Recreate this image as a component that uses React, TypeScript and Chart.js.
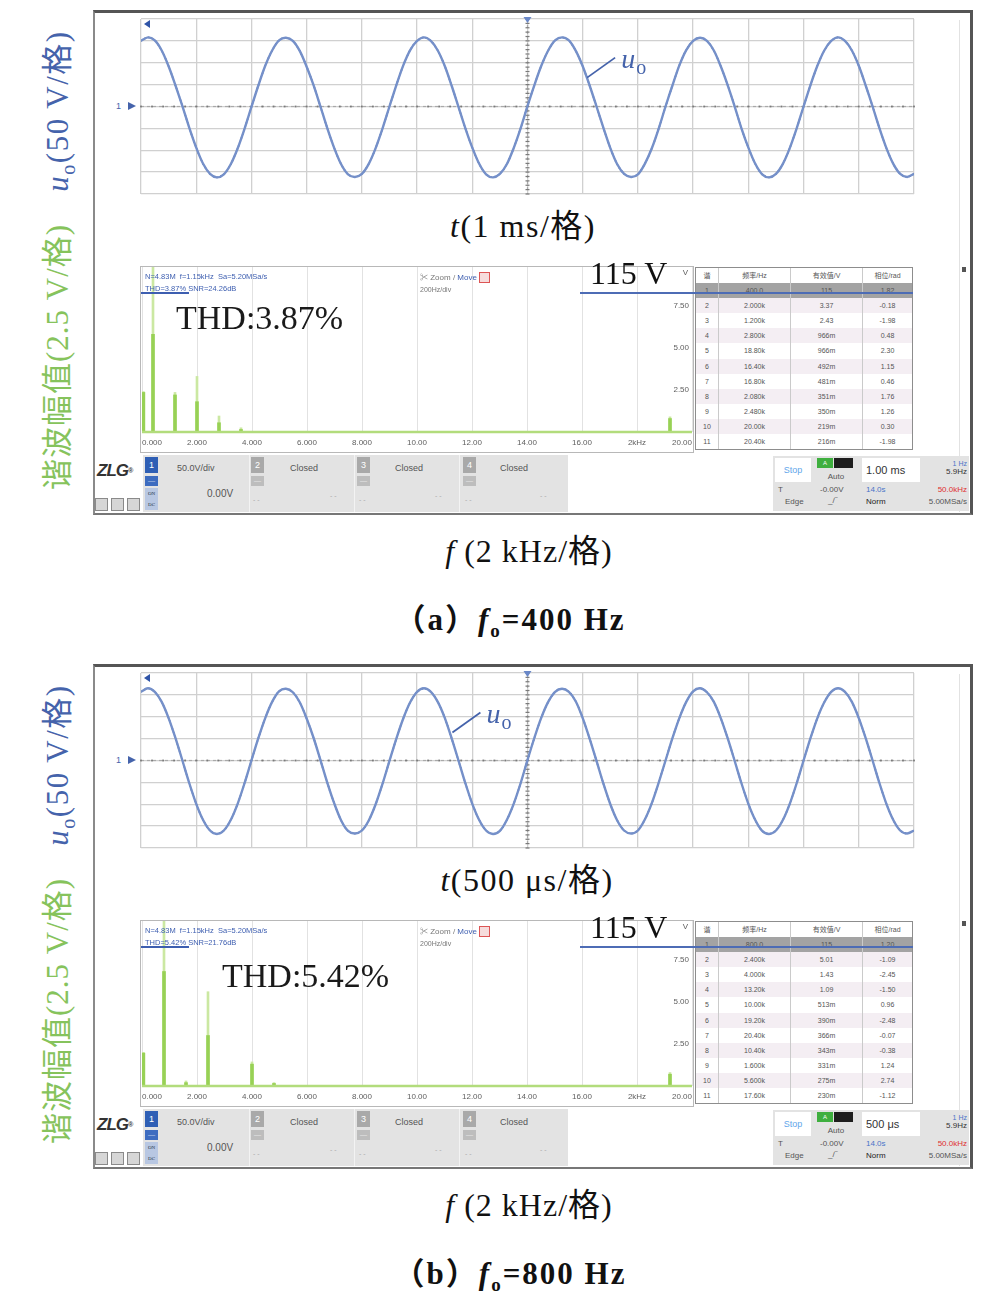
import React, { useEffect, useRef } from "react";
import { Chart, registerables } from "chart.js";

Chart.register(...registerables);

// ================= DATA =================
// Panel (a): fo = 400 Hz, 1 ms/div, samples every 0.125 ms from -7 ms
const waveStartA = -7;
const waveStepA = 0.125;
const waveA = [
  150, 158, 151, 128, 92, 48, 1, -49, -94, -131, -154, -162, -155, -132, -96, -51, -1, 48, 93, 128,
  151, 157, 150, 127, 91, 49, 0, -50, -95, -132, -155, -161, -154, -131, -95, -50, 0, 49, 94, 129,
  150, 158, 150, 128, 93, 48, -1, -50, -94, -131, -155, -162, -154, -132, -95, -50, 1, 49, 93, 128,
  151, 158, 151, 127, 92, 48, 0, -49, -95, -132, -154, -161, -155, -131, -96, -51, 0, 48, 94, 129,
  150, 157, 150, 128, 92, 49, 1, -50, -94, -131, -155, -162, -154, -131, -95, -50, 0, 49, 93, 128,
  150, 158, 150, 128, 93, 48, 0, -50, -95, -131, -154, -161, -154,
];
// Panel (b): fo = 800 Hz, 500 us/div, samples every 0.0625 ms from -3.5 ms
const waveStartB = -3.5;
const waveStepB = 0.0625;
const waveB = [
  157, 165, 157, 134, 97, 51, 0, -52, -99, -136, -160, -168, -160, -136, -99, -52, 0, 51, 97, 134,
  158, 164, 156, 133, 96, 52, 1, -51, -98, -137, -161, -167, -160, -137, -100, -53, -1, 50, 96, 133,
  157, 165, 157, 134, 98, 51, 0, -52, -99, -136, -160, -168, -161, -136, -99, -52, 1, 52, 98, 134,
  157, 164, 157, 135, 97, 50, -1, -53, -100, -137, -160, -167, -160, -135, -98, -51, 0, 51, 97, 134,
  158, 165, 156, 134, 97, 51, 0, -52, -99, -136, -161, -168, -160, -136, -99, -52, 0, 51, 97, 133,
  157, 165, 157, 134, 97, 51, 0, -52, -99, -136, -160, -167, -160,
];

// harmonic spectrum (kHz, V): peak-hold trace and current trace
const specFreqA = [0.05, 0.4, 1.2, 2.0, 2.8, 3.6, 19.2];
const specPeakA = [2.4, 115, 2.35, 3.3, 0.95, 0.25, 0.9];
const specNowA = [2.35, 5.8, 2.2, 1.8, 0.55, 0.15, 0.8];
const specFreqB = [0.05, 0.8, 1.6, 2.4, 4.0, 4.8, 19.2];
const specPeakB = [2.0, 115, 0.3, 5.6, 1.43, 0.2, 0.8];
const specNowB = [1.95, 6.8, 0.2, 3.0, 1.3, 0.15, 0.7];

const specXTicks = [0, 2, 4, 6, 8, 10, 12, 14, 16, 18, 20];
const specXLabels = ["0.000", "2.000", "4.000", "6.000", "8.000", "10.00", "12.00", "14.00", "16.00", "2kHz", "20.00"];
const specYTicks = [7.5, 5.0, 2.5];

// harmonic tables
const tblHeader = ["谐", "频率/Hz", "有效值/V", "相位/rad"];
const harmNo = ["1", "2", "3", "4", "5", "6", "7", "8", "9", "10", "11"];
const tblFreqA = ["400.0", "2.000k", "1.200k", "2.800k", "18.80k", "16.40k", "16.80k", "2.080k", "2.480k", "20.00k", "20.40k"];
const tblRmsA = ["115", "3.37", "2.43", "966m", "966m", "492m", "481m", "351m", "350m", "219m", "216m"];
const tblPhaseA = ["1.82", "-0.18", "-1.98", "0.48", "2.30", "1.15", "0.46", "1.76", "1.26", "0.30", "-1.98"];
const tblFreqB = ["800.0", "2.400k", "4.000k", "13.20k", "10.00k", "19.20k", "20.40k", "10.40k", "1.600k", "5.600k", "17.60k"];
const tblRmsB = ["115", "5.01", "1.43", "1.09", "513m", "390m", "366m", "343m", "331m", "275m", "230m"];
const tblPhaseB = ["1.20", "-1.09", "-2.45", "-1.50", "0.96", "-2.48", "-0.07", "-0.38", "1.24", "2.74", "-1.12"];

// ================= STYLE =================
const SERIF = '"Liberation Serif", "Times New Roman", "Noto Sans CJK SC", serif';
const SANS = '"Liberation Sans", Arial, "Noto Sans CJK SC", sans-serif';
const BLUE = "#4563ab";
const GREEN = "#86c35c";

const waveDecor = {
  id: "waveDecor",
  beforeDatasetsDraw(chart: any) {
    const { ctx, chartArea: a, scales } = chart;
    const x = scales.x, y = scales.y;
    const cx = x.getPixelForValue(0), cy = y.getPixelForValue(0);
    ctx.save();
    ctx.strokeStyle = "#a9a9a9";
    ctx.lineWidth = 1.2;
    ctx.setLineDash([3, 3]);
    ctx.beginPath(); ctx.moveTo(a.left, cy); ctx.lineTo(a.right, cy); ctx.stroke();
    ctx.beginPath(); ctx.moveTo(cx, a.top); ctx.lineTo(cx, a.bottom); ctx.stroke();
    ctx.setLineDash([]);
    ctx.fillStyle = "#7a7a7a";
    const nx = 70, ny = 40;
    for (let i = 0; i <= nx; i++) {
      const px = x.getPixelForValue(x.min + ((x.max - x.min) * i) / nx);
      ctx.fillRect(px - 0.9, cy - 0.9, 1.8, 1.8);
    }
    for (let j = 0; j <= ny; j++) {
      const py = y.getPixelForValue(y.min + ((y.max - y.min) * j) / ny);
      ctx.fillRect(cx - 2, py - 0.6, 4, 1.2);
    }
    ctx.restore();
  },
  afterDatasetsDraw(chart: any, _args: any, opts: any) {
    const { ctx, chartArea: a, scales } = chart;
    const x = scales.x, y = scales.y;
    const cx = x.getPixelForValue(0);
    ctx.save();
    ctx.fillStyle = "#6a88c8";
    ctx.beginPath(); ctx.moveTo(cx - 4, a.top - 2); ctx.lineTo(cx + 4, a.top - 2); ctx.lineTo(cx, a.top + 4); ctx.closePath(); ctx.fill();
    ctx.fillStyle = "#2f54a8";
    ctx.beginPath(); ctx.moveTo(a.left + 3, a.top + 5); ctx.lineTo(a.left + 9, a.top + 1); ctx.lineTo(a.left + 9, a.top + 9); ctx.closePath(); ctx.fill();
    const an = opts.anchor;
    const px = x.getPixelForValue(an.x), py = y.getPixelForValue(an.y);
    ctx.strokeStyle = BLUE; ctx.lineWidth = 1.8;
    ctx.beginPath(); ctx.moveTo(px, py); ctx.lineTo(px + 28, py - 20); ctx.stroke();
    ctx.fillStyle = BLUE;
    ctx.textAlign = "left"; ctx.textBaseline = "alphabetic";
    ctx.font = `italic 28px ${SERIF}`;
    ctx.fillText("u", px + 34, py - 10);
    const w = ctx.measureText("u").width;
    ctx.font = `20px ${SERIF}`;
    ctx.fillText("o", px + 34 + w + 1, py - 4);
    ctx.restore();
  },
};

const specDecor = {
  id: "specDecor",
  afterDatasetsDraw(chart: any) {
    const { ctx, chartArea: a, scales } = chart;
    const x = scales.x, y = scales.y;
    const by = y.getPixelForValue(0);
    ctx.save();
    ctx.strokeStyle = "#b2dc7c"; ctx.lineWidth = 2.5;
    ctx.beginPath(); ctx.moveTo(a.left, by); ctx.lineTo(a.right, by); ctx.stroke();
    ctx.fillStyle = "#5e5e5e";
    ctx.font = `8px ${SANS}`;
    ctx.textAlign = "right"; ctx.textBaseline = "middle";
    specYTicks.forEach((v) => ctx.fillText(v.toFixed(2), a.right - 3, y.getPixelForValue(v)));
    ctx.fillText("V", a.right - 4, a.top + 6);
    specXLabels.forEach((lab, i) => {
      const px = x.getPixelForValue(specXTicks[i]);
      ctx.textAlign = i === 0 ? "left" : i === specXLabels.length - 1 ? "right" : "center";
      ctx.fillText(lab, px, by + 11);
    });
    ctx.restore();
  },
};

function WaveChart({ oy, start, step, values, span, anchor }: any) {
  const ref = useRef<HTMLCanvasElement>(null);
  useEffect(() => {
    const pts = values.map((v: number, i: number) => ({ x: start + i * step, y: v }));
    const chart = new Chart(ref.current as HTMLCanvasElement, {
      type: "line",
      data: {
        datasets: [
          { data: pts, borderColor: "#7590c9", borderWidth: 2.4, pointRadius: 0, tension: 0.3, fill: false },
          { data: pts, borderColor: "#2f4d97", borderWidth: 1.6, borderDash: [1.5, 2.5], pointRadius: 0, tension: 0.3, fill: false },
        ],
      },
      options: {
        responsive: false,
        animation: false,
        events: [],
        layout: { padding: 2 },
        plugins: { legend: { display: false }, tooltip: { enabled: false }, waveDecor: { anchor } } as any,
        scales: {
          x: {
            type: "linear", min: -span, max: span,
            ticks: { display: false, stepSize: span / 7 },
            grid: { color: "#d0d0d0", lineWidth: 1.3, drawTicks: false },
            border: { display: false },
            afterFit: (s: any) => { s.height = 0; },
          },
          y: {
            type: "linear", min: -200, max: 200,
            ticks: { display: false, stepSize: 50 },
            grid: { color: "#d0d0d0", lineWidth: 1.3, drawTicks: false },
            border: { display: false },
            afterFit: (s: any) => { s.width = 0; },
          },
        },
      } as any,
      plugins: [waveDecor as any],
    });
    return () => chart.destroy();
  }, []);
  return <canvas ref={ref} width={777} height={179} style={{ position: "absolute", left: 139, top: 17 + oy }} />;
}

function SpecChart({ oy, freq, peak, now }: any) {
  const ref = useRef<HTMLCanvasElement>(null);
  useEffect(() => {
    const chart = new Chart(ref.current as HTMLCanvasElement, {
      type: "bar",
      data: {
        datasets: [
          { data: freq.map((f: number, i: number) => ({ x: f, y: peak[i] })), backgroundColor: "#cbe8a2", barThickness: 2, grouped: false, order: 2 },
          { data: freq.map((f: number, i: number) => ({ x: f, y: now[i] })), backgroundColor: "#98d155", barThickness: 3, grouped: false, order: 1 },
        ],
      } as any,
      options: {
        responsive: false,
        animation: false,
        events: [],
        layout: { padding: { left: 2, right: 3, top: 2, bottom: 0 } },
        plugins: { legend: { display: false }, tooltip: { enabled: false } },
        scales: {
          x: {
            type: "linear", min: 0, max: 20, offset: false,
            ticks: { display: false, stepSize: 2 },
            grid: { color: "#e2e2e2", lineWidth: 1, drawTicks: false, offset: false },
            border: { display: false },
            afterFit: (s: any) => { s.height = 18; },
          },
          y: {
            type: "linear", min: 0, max: 9.8,
            ticks: { display: false },
            grid: { display: false },
            border: { display: false },
            afterFit: (s: any) => { s.width = 0; },
          },
        },
      } as any,
      plugins: [specDecor as any],
    });
    return () => chart.destroy();
  }, []);
  return <canvas ref={ref} width={555} height={185} style={{ position: "absolute", left: 140, top: 265 + oy }} />;
}

function HarmTable({ oy, freq, rms, phase }: any) {
  const cols = [23, 72, 72, 49];
  const rowH = 15.1;
  const rows = [tblHeader, ...freq.map((f: string, i: number) => [harmNo[i], f, rms[i], phase[i]])];
  return (
    <div style={{ position: "absolute", left: 695, top: 267 + oy, width: 218, height: 183, border: "1px solid #8d8d8d", boxSizing: "border-box", background: "#fff", fontFamily: SANS, fontSize: 7, color: "#555", overflow: "hidden" }}>
      {rows.map((r: string[], ri: number) => (
        <div key={ri} style={{ display: "flex", height: rowH, lineHeight: rowH + "px", boxSizing: "border-box", background: ri === 1 ? "#a3a3a3" : ri > 1 && ri % 2 === 0 ? "#f4eef3" : "#fff" }}>
          {r.map((c: string, ci: number) => (
            <div key={ci} style={{ width: cols[ci], textAlign: "center", borderRight: ci < 3 ? "1px solid #cacaca" : "none", boxSizing: "border-box", whiteSpace: "nowrap" }}>{c}</div>
          ))}
        </div>
      ))}
    </div>
  );
}

function Abs({ l, t, w, h, bg, style, children }: any) {
  return <div style={{ position: "absolute", left: l, top: t, width: w, height: h, background: bg, ...style }}>{children}</div>;
}

function Txt({ x, y, size, color = "#111", family = SERIF, weight = 400, align = "center", children, style }: any) {
  const tx = align === "center" ? "translateX(-50%)" : align === "right" ? "translateX(-100%)" : "none";
  return (
    <div style={{ position: "absolute", left: x, top: y - size / 2, fontSize: size, lineHeight: size + "px", color, fontFamily: family, fontWeight: weight, whiteSpace: "nowrap", transform: tx, ...style }}>{children}</div>
  );
}

function ChBox({ l, t, n, active }: any) {
  const c = active ? "#2f5fb5" : "#a9a9a9";
  return (
    <>
      <Abs l={l} t={t} w={13} h={16} bg={c} style={{ color: "#fff", fontSize: 9, fontFamily: SANS, textAlign: "center", lineHeight: "16px" }}>{n}</Abs>
      <Abs l={l} t={t + 19} w={13} h={10} bg={active ? "#3d6cc0" : "#bdbdbd"} style={{ color: "#fff", fontSize: 7, textAlign: "center", lineHeight: "10px" }}>—</Abs>
    </>
  );
}

function Toolbar({ oy, timebase }: any) {
  const t = 455 + oy;
  const sm = { fontFamily: SANS, color: "#555" };
  return (
    <>
      <Txt x={97} y={t + 15} size={17} family={SANS} weight={700} align="left" color="#333" style={{ fontStyle: "italic", letterSpacing: -1 }}>ZLG<span style={{ fontSize: 7, verticalAlign: "top" }}>®</span></Txt>
      {[95, 111, 127].map((l) => (
        <Abs key={l} l={l} t={t + 43} w={13} h={13} bg="#d6d6d6" style={{ border: "1px solid #8a8a8a", boxSizing: "border-box" }} />
      ))}
      <Abs l={143} t={t} w={425} h={57} bg="#e3e3e3" />
      {[249, 354, 459].map((l) => <Abs key={l} l={l} t={t} w={1} h={57} bg="#f3f3f3" />)}
      <ChBox l={145} t={t + 2} n="1" active />
      <Abs l={145} t={t + 33} w={13} h={22} bg="#b8c7e2" style={{ fontSize: 5, color: "#234", textAlign: "center", lineHeight: "11px" }}>ON<br />DC</Abs>
      <Txt x={177} y={t + 13} size={9} align="left" style={sm}>50.0V/div</Txt>
      <Txt x={207} y={t + 39} size={10} align="left" style={sm}>0.00V</Txt>
      {[[251, "2", 290], [357, "3", 395], [463, "4", 500]].map(([l, n, tx]: any) => (
        <React.Fragment key={n}>
          <ChBox l={l} t={t + 2} n={n} />
          <Txt x={tx} y={t + 13} size={9} align="left" style={sm}>Closed</Txt>
          <Txt x={l + 2} y={t + 44} size={7} align="left" style={{ ...sm, color: "#aaa" }}>- -</Txt>
          <Txt x={tx + 40} y={t + 40} size={7} align="left" style={{ ...sm, color: "#aaa" }}>- -</Txt>
        </React.Fragment>
      ))}
      {/* right cluster */}
      <Abs l={773} t={t + 1} w={196} h={55} bg="#e3e3e3" />
      <Abs l={775} t={t + 3} w={36} h={24} bg="#fff" style={{ color: "#62a6ea", fontSize: 9, fontFamily: SANS, textAlign: "center", lineHeight: "24px" }}>Stop</Abs>
      <Abs l={817} t={t + 3} w={16} h={10} bg="#3faf3f" style={{ color: "#fff", fontSize: 6, textAlign: "center", lineHeight: "10px", fontFamily: SANS }}>A</Abs>
      <Abs l={834} t={t + 3} w={19} h={10} bg="#1e1e1e" />
      <Txt x={836} y={t + 22} size={8} style={sm}>Auto</Txt>
      <Abs l={862} t={t + 3} w={58} h={24} bg="#fff" style={{ fontSize: 11, fontFamily: SANS, color: "#333", lineHeight: "24px", paddingLeft: 4, boxSizing: "border-box", whiteSpace: "nowrap" }}>{timebase}</Abs>
      <Txt x={967} y={t + 8} size={7} align="right" style={{ fontFamily: SANS, color: "#4a73c8" }}>1 Hz</Txt>
      <Txt x={967} y={t + 17} size={8} align="right" style={{ fontFamily: SANS, color: "#333" }}>5.9Hz</Txt>
      <Txt x={778} y={t + 35} size={8} align="left" style={sm}>T</Txt>
      <Txt x={820} y={t + 35} size={8} align="left" style={sm}>-0.00V</Txt>
      <Txt x={866} y={t + 35} size={8} align="left" style={{ fontFamily: SANS, color: "#4a73c8" }}>14.0s</Txt>
      <Txt x={967} y={t + 35} size={8} align="right" style={{ fontFamily: SANS, color: "#e03030" }}>50.0kHz</Txt>
      <Txt x={785} y={t + 47} size={8} align="left" style={sm}>Edge</Txt>
      <Txt x={828} y={t + 46} size={8} align="left" style={sm}>_/‾</Txt>
      <Txt x={866} y={t + 47} size={8} align="left" style={{ fontFamily: SANS, color: "#222" }}>Norm</Txt>
      <Txt x={967} y={t + 47} size={8} align="right" style={sm}>5.00MSa/s</Txt>
    </>
  );
}

function Panel(p: any) {
  const oy = p.oy;
  return (
    <>
      {/* left rotated axis titles */}
      <div style={{ position: "absolute", left: 56, top: 111 + oy, transform: "translate(-50%,-50%) rotate(-90deg)", whiteSpace: "nowrap", fontFamily: SERIF, fontSize: 31, color: BLUE, letterSpacing: 1.5 }}>
        <i>u</i><sub style={{ fontSize: 20 }}>o</sub>(50 V/格)
      </div>
      <div style={{ position: "absolute", left: 54, top: 357 + oy, transform: "translate(-50%,-50%) rotate(-90deg)", whiteSpace: "nowrap", fontFamily: SERIF, fontSize: 31, color: GREEN, letterSpacing: 1 }}>
        谐波幅值(2.5 V/格)
      </div>
      {/* screenshot frame */}
      <Abs l={93} t={10 + oy} w={880} h={505} style={{ boxSizing: "border-box", borderTop: "3px solid #555", borderLeft: "2px solid #8a8a8a", borderRight: "3px solid #555", borderBottom: "2px solid #777" }} />
      <Abs l={959} t={20 + oy} w={1} h={492} bg="#e2e2e2" />
      <Abs l={962} t={267 + oy} w={4} h={5} bg="#555" />
      {/* channel marker */}
      <Txt x={116} y={106 + oy} size={9} family={SANS} color={BLUE} align="left">1</Txt>
      <div style={{ position: "absolute", left: 128, top: 102 + oy, width: 0, height: 0, borderTop: "4px solid transparent", borderBottom: "4px solid transparent", borderLeft: `8px solid ${BLUE}` }} />
      <WaveChart oy={oy} start={p.waveStart} step={p.waveStep} values={p.wave} span={p.span} anchor={p.anchor} />
      {/* time axis title */}
      <Txt x={p.tX} y={226 + oy} size={32} style={{ letterSpacing: 1.5 }}><i>t</i>{p.tUnit}</Txt>
      {/* spectrum */}
      <Abs l={140} t={266 + oy} w={554} h={187} style={{ border: "1px solid #b8b8b8", boxSizing: "border-box" }} />
      <SpecChart oy={oy} freq={p.specFreq} peak={p.specPeak} now={p.specNow} />
      <Txt x={145} y={277 + oy} size={7.5} family={SANS} color="#3d5eb0" align="left">N=4.83M&nbsp;&nbsp;f=1.15kHz&nbsp;&nbsp;Sa=5.20MSa/s</Txt>
      <Txt x={145} y={289 + oy} size={7.5} family={SANS} color="#3d5eb0" align="left">{p.info2}</Txt>
      <Abs l={141} t={292 + oy} w={48} h={1.5} bg="#3d5eb0" />
      <Txt x={420} y={276 + oy} size={8} family={SANS} color="#777" align="left">✂ Zoom / <span style={{ color: "#3d5eb0" }}>Move</span> <span style={{ display: "inline-block", width: 9, height: 9, border: "1px solid #d55", verticalAlign: "middle", background: "#f6dcdc" }} /></Txt>
      <Txt x={420} y={289 + oy} size={7} family={SANS} color="#777" align="left">200Hz/div</Txt>
      <Txt x={p.thdX} y={318 + oy + p.thdDy} size={34} align="left" color="#1a1a1a">{p.thd}</Txt>
      <HarmTable oy={oy} freq={p.tblFreq} rms={p.tblRms} phase={p.tblPhase} />
      <Txt x={590} y={273 + oy} size={32} align="left" color="#111">115 V</Txt>
      <Abs l={580} t={292 + oy} w={333} h={2} bg="#4d6cb5" />
      <Toolbar oy={oy} timebase={p.timebase} />
      {/* frequency axis title */}
      <Txt x={529} y={551 + oy} size={32} style={{ letterSpacing: 1 }}><i>f</i> (2 kHz/格)</Txt>
      {/* caption */}
      <Txt x={510} y={619 + oy} size={31} weight={700} style={{ letterSpacing: 2 }}>
        （{p.letter}）<i>f</i><sub style={{ fontSize: 19 }}>o</sub>={p.fo} Hz
      </Txt>
    </>
  );
}

export default function App() {
  return (
    <div style={{ position: "absolute", left: 0, top: 0, width: 998, height: 1305, background: "#fff", overflow: "hidden" }}>
      <Panel
        oy={0} letter="a" fo="400" tX={523} tUnit="(1 ms/格)" timebase="1.00 ms"
        waveStart={waveStartA} waveStep={waveStepA} wave={waveA} span={7} anchor={{ x: 1.08, y: 66 }}
        specFreq={specFreqA} specPeak={specPeakA} specNow={specNowA}
        thd="THD:3.87%" thdX={176} thdDy={0} info2="THD=3.87%  SNR=24.26dB"
        tblFreq={tblFreqA} tblRms={tblRmsA} tblPhase={tblPhaseA}
      />
      <Panel
        oy={654} letter="b" fo="800" tX={527} tUnit="(500 μs/格)" timebase="500 μs"
        waveStart={waveStartB} waveStep={waveStepB} wave={waveB} span={3.5} anchor={{ x: -0.68, y: 64 }}
        specFreq={specFreqB} specPeak={specPeakB} specNow={specNowB}
        thd="THD:5.42%" thdX={222} thdDy={4} info2="THD=5.42%  SNR=21.76dB"
        tblFreq={tblFreqB} tblRms={tblRmsB} tblPhase={tblPhaseB}
      />
    </div>
  );
}
